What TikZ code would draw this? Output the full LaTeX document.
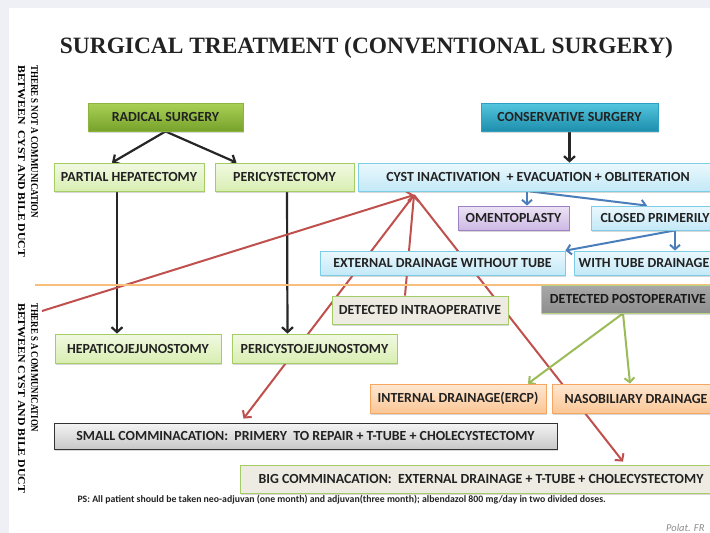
\documentclass[tikz,border=0pt]{standalone}
\usepackage{fontspec}
\setmainfont{Carlito}
\newfontfamily\timesfont{Liberation Serif}
\usetikzlibrary{arrows.meta,shadows}
\definecolor{slidebg}{HTML}{EEF0F5}
\definecolor{boxtext}{HTML}{222222}
\definecolor{dgreentop}{HTML}{A9D055}
\definecolor{dgreenbot}{HTML}{77A32C}
\definecolor{dgreenline}{HTML}{8DB43F}
\definecolor{tealtop}{HTML}{55C6DE}
\definecolor{tealbot}{HTML}{1D8EAC}
\definecolor{tealline}{HTML}{2E9FBE}
\definecolor{lgreentop}{HTML}{F1F9E2}
\definecolor{lgreenbot}{HTML}{D9EEB2}
\definecolor{lgreenline}{HTML}{A5CD66}
\definecolor{lbluetop}{HTML}{EBF8FD}
\definecolor{lbluebot}{HTML}{C3E9F7}
\definecolor{lblueline}{HTML}{7DCDE8}
\definecolor{lilactop}{HTML}{ECE3F5}
\definecolor{lilacbot}{HTML}{CDB9E4}
\definecolor{lilacline}{HTML}{9F82C6}
\definecolor{beige}{HTML}{EEECE2}
\definecolor{greytop}{HTML}{A8A8A8}
\definecolor{greybot}{HTML}{8E8E8E}
\definecolor{orangetop}{HTML}{FEE6D1}
\definecolor{orangebot}{HTML}{FBC796}
\definecolor{orangeline}{HTML}{F6A65F}
\definecolor{silvertop}{HTML}{F4F4F4}
\definecolor{silverbot}{HTML}{C8C8C8}
\definecolor{divider}{HTML}{F8BE7C}
\definecolor{redline}{HTML}{C0504D}
\definecolor{blueline}{HTML}{4A7EBB}
\definecolor{greenline}{HTML}{9BBB59}
\pgfdeclarelayer{back}
\pgfdeclarelayer{lines}
\pgfsetlayers{back,lines,main}
\tikzset{
  box/.style={draw, line width=0.8pt, inner sep=0pt, text=boxtext,
    font=\fontsize{13.9}{16}\selectfont\bfseries,
    drop shadow={shadow xshift=1.2pt, shadow yshift=-1.5pt, opacity=0.3}},
  darkgreenbox/.style={box, draw=dgreenline, top color=dgreentop, bottom color=dgreenbot},
  tealbox/.style={box, draw=tealline, top color=tealtop, bottom color=tealbot},
  greenbox/.style={box, draw=lgreenline, top color=lgreentop, bottom color=lgreenbot},
  bluebox/.style={box, draw=lblueline, top color=lbluetop, bottom color=lbluebot},
  lilacbox/.style={box, draw=lilacline, top color=lilactop, bottom color=lilacbot},
  beigebox/.style={box, draw=lgreenline, fill=beige},
  greybox/.style={box, draw=lgreenline!80!white, top color=greytop, bottom color=greybot, text=black!90},
  orangebox/.style={box, draw=orangeline, top color=orangetop, bottom color=orangebot},
  silverbox/.style={box, draw=black!80, top color=silvertop, bottom color=silverbot},
  vtext/.style={rotate=-90, anchor=base west, inner sep=0pt,
    font=\timesfont\bfseries\fontsize{10.5}{12}\selectfont},
  blk/.style={line width=2.2pt, draw=black!85, -{Straight Barb[length=5pt,width=11pt]}},
  redarrow/.style={line width=2pt, draw=redline, -{Straight Barb[length=5pt,width=11pt]}},
  bluearrow/.style={line width=2pt, draw=blueline, -{Straight Barb[length=4.5pt,width=10pt]}},
  greenarrow/.style={line width=2pt, draw=greenline, -{Straight Barb[length=4.5pt,width=10pt]}},
}

\begin{document}
\begin{tikzpicture}[x=1pt,y=-1pt]
\useasboundingbox (0,0) rectangle (710,533);
\begin{pgfonlayer}{back}
\fill[slidebg] (0,0) rectangle (710,533);
\fill[white] (9,8) rectangle (710,533);
\end{pgfonlayer}

\node[text=boxtext, font=\timesfont\bfseries\fontsize{23.4}{27}\selectfont] (title) at (366.5,48)
  {SURGICAL TREATMENT (CONVENTIONAL SURGERY)};

\node[vtext] (nocomma) at (31,65) {\resizebox{153pt}{\height}{THERE S NOT A COMMUNICATION}};
\node[vtext] (nocommb) at (18,65) {\resizebox{192pt}{\height}{BETWEEN\ \ CYST AND BILE DUCT}};
\node[vtext] (comma) at (31,303) {\resizebox{129pt}{\height}{THERE S A COMMUNICATION}};
\node[vtext] (commb) at (18,303) {\resizebox{190pt}{\height}{BETWEEN CYST AND BILE DUCT}};

\draw[divider, line width=1.4pt] (35,285) -- (710,285);

\node[darkgreenbox, minimum width=155pt, minimum height=28pt] (radical) at (165.5,117) {RADICAL SURGERY};
\node[tealbox, minimum width=177pt, minimum height=28pt] (conserv) at (569.5,117) {CONSERVATIVE SURGERY};
\node[greenbox, minimum width=150pt, minimum height=28pt] (parthep) at (129,177) {PARTIAL HEPATECTOMY};
\node[greenbox, minimum width=139pt, minimum height=28pt] (pericyst) at (284.5,177) {PERICYSTECTOMY};
\node[bluebox, minimum width=360pt, minimum height=28pt] (cystinact) at (538,177)
  {CYST INACTIVATION\ \ + EVACUATION + OBLITERATION};
\node[lilacbox, minimum width=111pt, minimum height=24pt] (omento) at (513.5,218) {OMENTOPLASTY};
\node[bluebox, minimum width=128pt, minimum height=24pt] (closed) at (655,218) {CLOSED PRIMERILY};
\node[bluebox, minimum width=245pt, minimum height=24pt] (extdrain) at (442.5,263) {EXTERNAL DRAINAGE WITHOUT TUBE};
\node[bluebox, minimum width=140pt, minimum height=24pt] (withtube) at (644,263) {WITH TUBE DRAINAGE};
\node[beigebox, minimum width=176pt, minimum height=28pt] (intraop) at (420,310) {DETECTED INTRAOPERATIVE};
\node[greybox, minimum width=174pt, minimum height=28pt] (postop) at (628,299) {DETECTED POSTOPERATIVE};
\node[greenbox, minimum width=166pt, minimum height=29pt] (hepjej) at (138,348.5) {HEPATICOJEJUNOSTOMY};
\node[greenbox, minimum width=165pt, minimum height=29pt] (pericjej) at (314.5,348.5) {PERICYSTOJEJUNOSTOMY};
\node[orangebox, minimum width=176pt, minimum height=29pt] (intdrain) at (458,398.5) {INTERNAL DRAINAGE(ERCP)};
\node[orangebox, minimum width=168pt, minimum height=29pt] (nasobil) at (636,398.5) {NASOBILIARY DRAINAGE};
\node[silverbox, minimum width=503pt, minimum height=26pt] (smallcomm) at (305.5,436)
  {SMALL COMMINACATION:\ \ PRIMERY\ \ TO REPAIR + T-TUBE + CHOLECYSTECTOMY};
\node[beigebox, minimum width=482pt, minimum height=28pt] (bigcomm) at (481,479)
  {BIG COMMINACATION:\ \ EXTERNAL DRAINAGE + T-TUBE + CHOLECYSTECTOMY};

\node[anchor=west, text=boxtext, font=\bfseries\fontsize{9.8}{11}\selectfont] (ps) at (74,500)
  {PS: All patient should be taken neo-adjuvan (one month) and adjuvan(three month); albendazol 800 mg/day in two divided doses.};
\node[anchor=east, text=black!45, font=\itshape\fontsize{10.5}{12}\selectfont] (sign) at (708,528) {Polat. FR};

\coordinate (apex) at (414,195);
\coordinate (redstart) at (42,311);

\begin{pgfonlayer}{lines}
\draw[blk] (radical.south) -- ([xshift=-17pt]parthep.north);
\draw[blk] (radical.south) -- ([xshift=-48pt]pericyst.north);
\draw[blk] (conserv.south) -- (conserv.south |- cystinact.north);
\draw[blk] ([xshift=-12pt]parthep.south) -- ([xshift=-21pt]hepjej.north);
\draw[blk] ([xshift=2.5pt]pericyst.south) -- ([xshift=-27pt]pericjej.north);

\draw[bluearrow] ([xshift=-11pt]cystinact.south) -- ([xshift=13.5pt]omento.north);
\draw[bluearrow] ([xshift=-8pt]cystinact.south) -- ([xshift=-8pt]closed.north);
\draw[bluearrow] ([xshift=20pt]closed.south) -- (extdrain.north east);
\draw[bluearrow] ([xshift=20pt]closed.south) -- ([xshift=31pt]withtube.north);

\draw[redarrow] (redstart) -- (apex);
\draw[redarrow] ([xshift=-15pt]intraop.north) -- (apex);
\draw[redarrow] (apex) -- ([xshift=-62pt,yshift=4pt]smallcomm.north);
\draw[redarrow] (apex) -- ([xshift=142pt,yshift=3pt]bigcomm.north);

\draw[greenarrow] ([xshift=-5pt]postop.south) -- ([xshift=70pt]intdrain.north);
\draw[greenarrow] ([xshift=-5pt]postop.south) -- ([xshift=-6pt]nasobil.north);
\end{pgfonlayer}
\end{tikzpicture}
\end{document}
